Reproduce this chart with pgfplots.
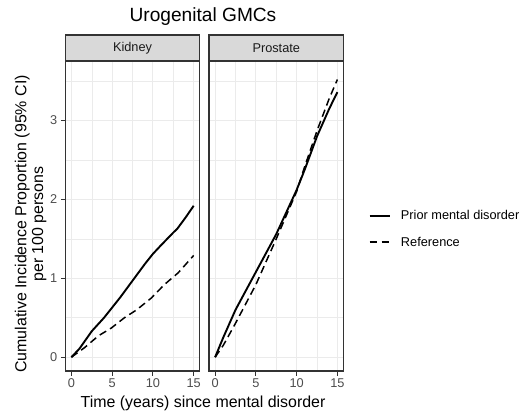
\documentclass[border=0pt]{standalone}
\usepackage{fontspec}
\setmainfont{Liberation Sans}
\usepackage{pgfplots}
\pgfplotsset{compat=1.18}

\definecolor{g10}{HTML}{1A1A1A}
\definecolor{g20}{HTML}{333333}
\definecolor{g30}{HTML}{4D4D4D}
\definecolor{g85}{HTML}{D9D9D9}
\definecolor{gridc}{HTML}{EBEBEB}

\pgfplotsset{
  panel/.style={
    scale only axis, width=134.5bp, height=310bp, anchor=south west,
    xmin=-0.75, xmax=15.75, ymin=-0.175, ymax=3.755,
    xtick={0,5,10,15}, minor xtick={2.5,7.5,12.5},
    ytick={0,1,2,3}, minor ytick={0.5,1.5,2.5,3.5},
    grid=both,
    major grid style={draw=gridc, line width=1.1bp},
    minor grid style={draw=gridc, line width=0.55bp},
    axis line style={draw=g20, line width=1.1bp},
    tick align=outside, tick pos=left,
    major tick length=4.5bp, minor tick length=0pt,
    every tick/.style={draw=g20, line width=1bp},
    ticklabel style={font=\fontsize{12.8}{12.8}\selectfont, text=g30},
    /pgf/number format/assume math mode=true,
    every axis title/.style={at={(0.5,1)}, anchor=south, draw=g20,
      line width=1.1bp, fill=g85, minimum width=134.5bp,
      minimum height=26bp, inner sep=0pt, outer sep=0pt,
      font=\fontsize{12.8}{12.8}\selectfont, text=g10},
  },
  prior/.style={black, line width=1.9bp},
  ref/.style={black, line width=1.5bp, dash pattern=on 7.5bp off 4.5bp},
}

\begin{document}
\begin{tikzpicture}
\useasboundingbox (0bp,0bp) rectangle (523bp,417bp);

% Kidney
\begin{axis}[panel, at={(65.3bp,46bp)}, title={Kidney}]
\addplot[prior] coordinates {
  (0,0) (1,0.11) (2.5,0.33) (4,0.5) (5,0.63) (6,0.76) (7.5,0.97)
  (9,1.18) (10,1.31) (11,1.42) (12.5,1.58) (13,1.63) (14,1.77) (15,1.92)};
\addplot[ref] coordinates {
  (0,0) (1.6,0.12) (3.3,0.27) (4.9,0.37) (6.5,0.5) (8,0.6)
  (9.8,0.75) (11.4,0.92) (13.1,1.07) (15,1.29)};
\end{axis}

% Prostate
\begin{axis}[panel, at={(209bp,46bp)}, title={Prostate},
  yticklabels={}, ytick style={draw=none},
  legend style={at={(1.185,0.458)}, anchor=west, draw=none, fill=none,
    inner sep=0pt, font=\fontsize{12.8}{12.8}\selectfont,
    row sep=15.5bp, column sep=10bp, nodes={inner sep=0pt}},
  legend cell align=left,
  legend image code/.code={\draw[#1] (0bp,0bp) -- (20.5bp,0bp);}]
\addplot[prior] coordinates {
  (0,0) (1,0.25) (2.5,0.6) (5,1.08) (7.5,1.56) (10,2.12) (11,2.38)
  (12.5,2.8) (14,3.15) (15,3.36)};
\addlegendentry{Prior mental disorder}
\addplot[ref] coordinates {
  (0,0) (1,0.15) (2.5,0.43) (5,0.92) (7.5,1.5) (10,2.1) (11,2.42)
  (12.5,2.87) (14,3.28) (15,3.52)};
\addlegendentry{Reference}
\end{axis}

\node[anchor=base, font=\fontsize{19.2}{19.2}\selectfont] at (203bp,395.3bp) {Urogenital GMCs};
\node[anchor=base, font=\fontsize{16}{16}\selectfont] at (203bp,9.3bp) {Time (years) since mental disorder};
\node[rotate=90, anchor=base, font=\fontsize{16}{16}\selectfont] at (26.3bp,193bp) {Cumulative Incidence Proportion (95\% CI)};
\node[rotate=90, anchor=base, font=\fontsize{16}{16}\selectfont] at (43bp,193bp) {per 100 persons};
\end{tikzpicture}
\end{document}
